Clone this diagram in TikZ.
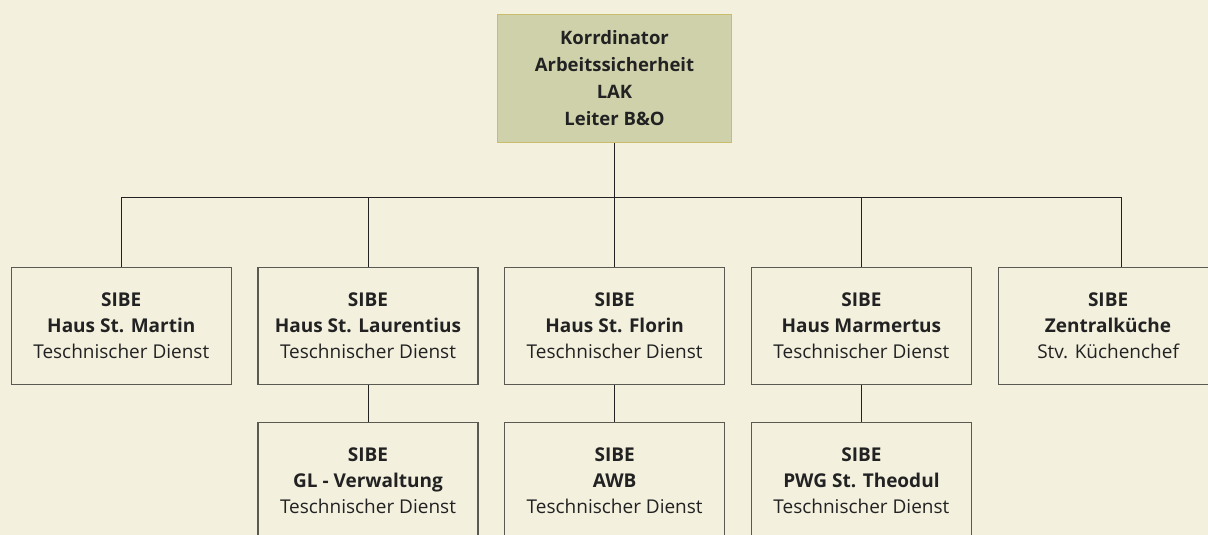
\documentclass[tikz,border=0pt]{standalone}
\usepackage{fontspec}
\setmainfont{Open Sans}
\usepackage{xcolor}
\usepackage{tikz}
\usetikzlibrary{positioning}
\definecolor{paper}{HTML}{F3F0DE}
\definecolor{olivebox}{HTML}{CFD1AB}
\definecolor{olivedge}{HTML}{C9BD6C}
\definecolor{frame}{HTML}{5A5A52}
\definecolor{ink}{HTML}{222222}
\tikzset{
    unit/.style={draw=frame, fill=paper, line width=1.2pt, align=center, text=ink,
                 minimum width=220pt, minimum height=117pt, inner sep=2pt,
                 font=\fontsize{19}{26}\selectfont},
    headunit/.style={unit, draw=olivedge, fill=olivebox, minimum width=234pt, minimum height=128pt,
                     font=\fontsize{18.5}{27}\selectfont\bfseries},
    link/.style={draw=ink, line width=0.9pt}
}
\begin{document}
\begin{tikzpicture}[x=1pt, y=-1pt, node distance=37pt and 25.5pt]
        \fill[paper] (0,0) rectangle (1208,535);
        \useasboundingbox (0,0) rectangle (1208,535);
        \node[headunit] (kor) at (614.5,78.5) {Korrdinator\\Arbeitssicherheit\\LAK\\Leiter B\&O};
        \coordinate (bus) at (614.5,197);
        % erste Ebene
        \node[unit] (martin) at (121.3,326) {\textbf{SIBE}\\\textbf{Haus St. Martin}\\Teschnischer Dienst};
        \node[unit, right=of martin] (laur) {\textbf{SIBE}\\\textbf{Haus St. Laurentius}\\Teschnischer Dienst};
        \node[unit, right=of laur] (florin) {\textbf{SIBE}\\\textbf{Haus St. Florin}\\Teschnischer Dienst};
        \node[unit, right=of florin] (marm) {\textbf{SIBE}\\\textbf{Haus Marmertus}\\Teschnischer Dienst};
        \node[unit, right=of marm] (kueche) {\textbf{SIBE}\\\textbf{Zentralküche}\\Stv. Küchenchef};
        % zweite Ebene
        \node[unit, below=of laur] (verw) {\textbf{SIBE}\\\textbf{GL - Verwaltung}\\Teschnischer Dienst};
        \node[unit, below=of florin] (awb) {\textbf{SIBE}\\\textbf{AWB}\\Teschnischer Dienst};
        \node[unit, below=of marm] (pwg) {\textbf{SIBE}\\\textbf{PWG St. Theodul}\\Teschnischer Dienst};
        \draw[link] (kor) -- (bus);
        \draw[link] (martin.north) |- (bus);
        \draw[link] (laur.north) |- (bus);
        \draw[link] (florin.north) |- (bus);
        \draw[link] ([xshift=13pt]kueche.north) |- (bus);
        \draw[link] (marm.north) |- (bus);
        \draw[link] (laur) -- (verw);
        \draw[link] (florin) -- (awb);
        \draw[link] (marm) -- (pwg);
    \end{tikzpicture}
\end{document}
